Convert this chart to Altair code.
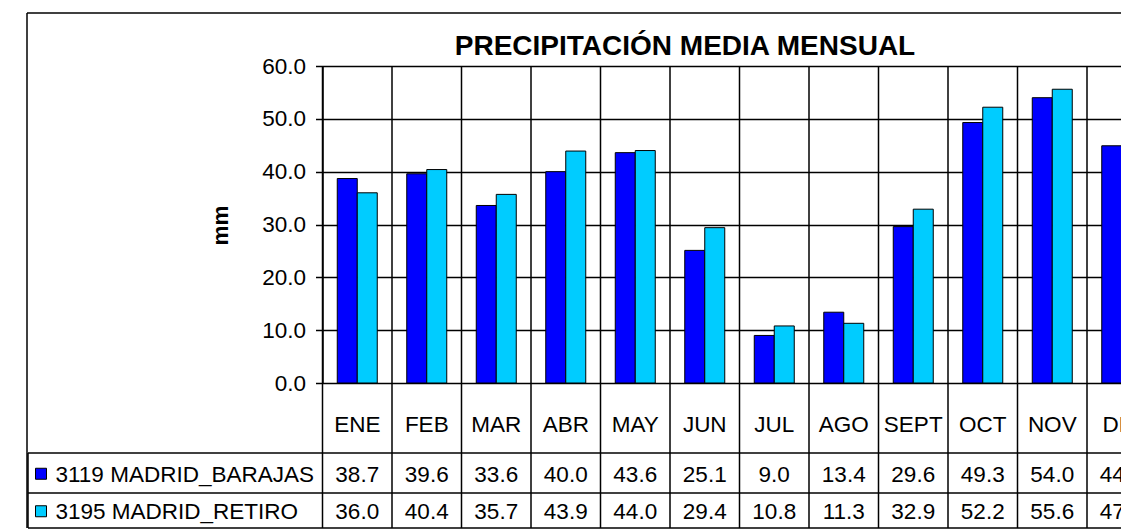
import altair as alt
import pandas as pd

# ---------------- data ----------------
MONTHS = ["ENE", "FEB", "MAR", "ABR", "MAY", "JUN", "JUL", "AGO", "SEPT", "OCT", "NOV", "DIC"]
BARAJAS = [38.7, 39.6, 33.6, 40.0, 43.6, 25.1, 9.0, 13.4, 29.6, 49.3, 54.0, 44.9]
RETIRO = [36.0, 40.4, 35.7, 43.9, 44.0, 29.4, 10.8, 11.3, 32.9, 52.2, 55.6, 47.0]
SERIES = ["3119 MADRID_BARAJAS", "3195 MADRID_RETIRO"]
COLORS = ["#0000FF", "#00CCFF"]
TITLE = "PRECIPITACIÓN MEDIA MENSUAL"
Y_TITLE = "mm"
Y_TICKS = [0, 10, 20, 30, 40, 50, 60]

FONT = "Liberation Sans"
FS = 22.5

rows = []
for name, vals in zip(SERIES, [BARAJAS, RETIRO]):
    for m, v in zip(MONTHS, vals):
        rows.append({"month": m, "series": name, "value": v})
df = pd.DataFrame(rows)

# ---------------- layout (pixels, relative to plot area) ----------------
STEP = 69.5
PAD_LEFT = 314.5
PLOT_W = 1113 - PAD_LEFT
PLOT_H = 317
ROW_TOP = 387
ROW_MID = 427
ROW_BOT = 462
TABLE_LEFT = -294.5
BOX_LEFT = -295.5
BOX_TOP = -53
FAR_RIGHT = 2000

x_scale = alt.Scale(domain=MONTHS, range=[0, STEP * len(MONTHS)], paddingInner=0, paddingOuter=0)
row_scale = alt.Scale(domain=SERIES, range=[ROW_TOP, ROW_BOT], paddingInner=0, paddingOuter=0)
color_scale = alt.Scale(domain=SERIES, range=COLORS)

x_axis = alt.Axis(
    title=None, labelFontSize=FS, labelFont=FONT, labelColor="black", labelAngle=0,
    labelPadding=41, labelBaseline="middle", ticks=False, domain=False, grid=False,
    orient="bottom", labelOverlap=False,
)

def xenc(**kw):
    return alt.X("month:N", scale=x_scale, sort=MONTHS, axis=x_axis, **kw)

bars = alt.Chart(df).mark_bar(stroke="black", strokeWidth=1, opacity=1).encode(
    x=xenc(),
    xOffset=alt.XOffset("series:N", scale=alt.Scale(domain=SERIES, paddingOuter=0.7375, paddingInner=0)),
    y=alt.Y(
        "value:Q",
        scale=alt.Scale(domain=[0, 60], nice=False, zero=True),
        axis=alt.Axis(
            values=Y_TICKS, format=".1f", title=Y_TITLE, grid=True, gridColor="black",
            gridWidth=1.5, gridOpacity=1, domainColor="black", domainWidth=1.5,
            tickColor="black", tickSize=7, tickWidth=1.5, labelFontSize=FS, labelFont=FONT,
            labelColor="black", labelPadding=10, titleFont=FONT, titleFontSize=FS,
            titleFontWeight="bold", titleColor="black", titleX=-102.5, titleY=159,
            titleAngle=-90, titleAlign="center", titleBaseline="middle",
        ),
    ),
    color=alt.Color("series:N", scale=color_scale, legend=None),
)

month_df = pd.DataFrame({"month": MONTHS})
vlines = alt.Chart(month_df).mark_rule(color="black", strokeWidth=1.5).encode(
    x=xenc(bandPosition=0),
    y=alt.value(0),
    y2=alt.value(ROW_BOT),
)

hline_df = pd.DataFrame({"yy": [ROW_TOP, ROW_MID, ROW_BOT]})
hlines = alt.Chart(hline_df).mark_rule(color="black", strokeWidth=1.5).encode(
    y=alt.Y("yy:Q", scale=None, axis=None),
    x=alt.value(TABLE_LEFT),
    x2=alt.value(FAR_RIGHT),
)

one = pd.DataFrame({"t": [TITLE]})
left_border = alt.Chart(one).mark_rule(color="black", strokeWidth=1.5).encode(
    x=alt.value(TABLE_LEFT), y=alt.value(ROW_TOP), y2=alt.value(ROW_BOT)
)
box_top = alt.Chart(one).mark_rule(color="black", strokeWidth=1.5).encode(
    x=alt.value(BOX_LEFT), x2=alt.value(FAR_RIGHT), y=alt.value(BOX_TOP)
)
box_left = alt.Chart(one).mark_rule(color="black", strokeWidth=1.5).encode(
    x=alt.value(BOX_LEFT), y=alt.value(BOX_TOP), y2=alt.value(ROW_BOT)
)

title = alt.Chart(one).mark_text(
    font=FONT, fontSize=28, fontWeight="bold", color="black", align="center", baseline="alphabetic"
).encode(text="t:N", x=alt.value(362.5), y=alt.value(-11))

table_text = alt.Chart(df).mark_text(
    font=FONT, fontSize=FS, color="black", align="center", baseline="middle", dy=3
).encode(
    x=xenc(),
    y=alt.Y("series:N", scale=row_scale, axis=None),
    text=alt.Text("value:Q", format=".1f"),
)

series_df = pd.DataFrame({"series": SERIES})
series_labels = alt.Chart(series_df).mark_text(
    font=FONT, fontSize=FS, color="black", align="left", baseline="middle", dy=3
).encode(
    x=alt.value(-267),
    y=alt.Y("series:N", scale=row_scale, axis=None),
    text="series:N",
)
swatches = alt.Chart(series_df).mark_square(size=121, stroke="black", strokeWidth=1, opacity=1, yOffset=2).encode(
    x=alt.value(-281.5),
    y=alt.Y("series:N", scale=row_scale, axis=None),
    color=alt.Color("series:N", scale=color_scale, legend=None),
)

chart = alt.layer(
    box_top, box_left, bars, vlines, hlines, left_border, title, table_text, series_labels, swatches
).resolve_scale(y="independent").properties(
    width=PLOT_W,
    height=PLOT_H,
    padding={"left": PAD_LEFT, "top": 58, "right": 0, "bottom": 147},
    autosize=alt.AutoSizeParams(type="none"),
    background="white",
).configure_view(stroke=None)

chart.save("out.html", embed_options={"renderer": "svg", "actions": False})
